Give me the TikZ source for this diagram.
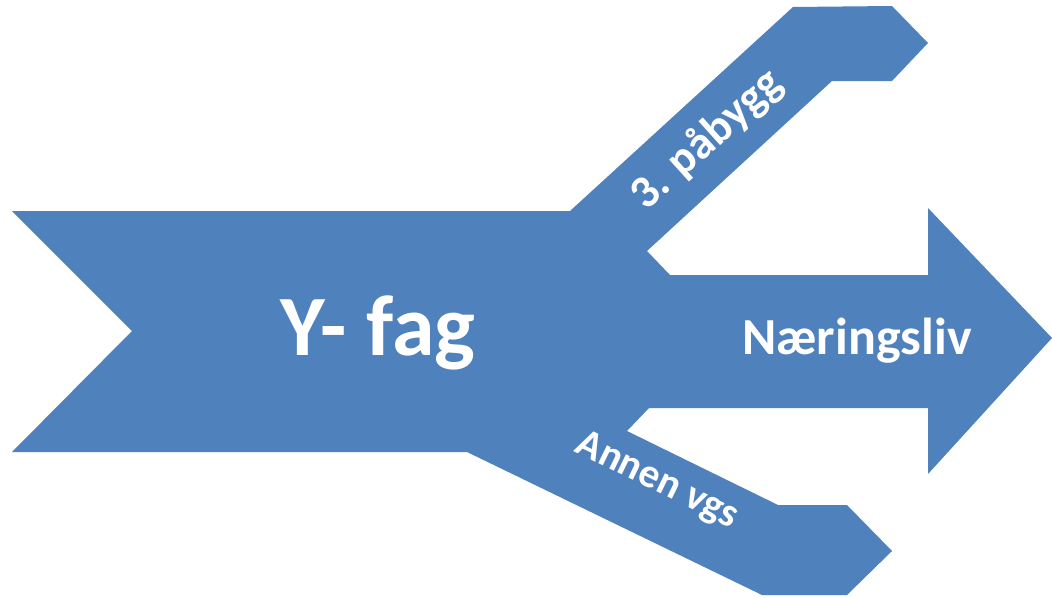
\documentclass[tikz,border=0pt]{standalone}
\usepackage{fontspec}
\setmainfont{Carlito}
\definecolor{shapeblue}{HTML}{4F81BD}
\begin{document}
\begin{tikzpicture}[x=1pt,y=-1pt,
  lbl/.style={text=white,font=\bfseries,inner sep=0pt,anchor=center}]
\useasboundingbox (0,0) rectangle (1052,597);
\fill[shapeblue]
  (12,211) -- (570,211) -- (793,7) -- (892,6) -- (928,43) -- (892,81)
  -- (832,81) -- (647,251) -- (670,275) -- (928,275) -- (928,208)
  -- (1052,338) -- (928,474) -- (928,408) -- (649,408) -- (627,431)
  -- (778,505) -- (847,505) -- (892,551) -- (847,595) -- (762,595)
  -- (467,452) -- (12,452) -- (132,331) -- cycle;
\node[lbl,font=\fontsize{86}{90}\selectfont\bfseries] (yfag) at (378,333) {Y- fag};
\node[lbl,font=\fontsize{52}{56}\selectfont\bfseries] (naer) at (857,341) {Næringsliv};
\node[lbl,font=\fontsize{46}{50}\selectfont\bfseries,rotate=42] (pab) at (707,140) {3. påbygg};
\node[lbl,font=\fontsize{41}{45}\selectfont\bfseries,rotate=-26] (annen) at (657,481) {Annen vgs};
\end{tikzpicture}
\end{document}
